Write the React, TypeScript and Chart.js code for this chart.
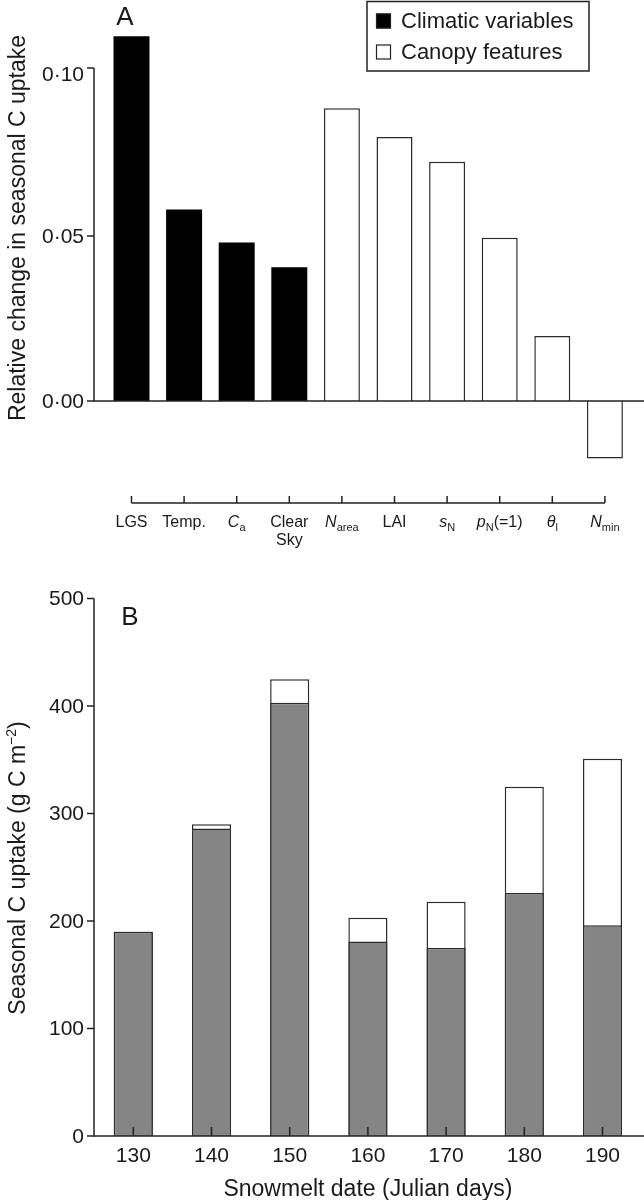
import React, { useEffect, useRef } from 'react';
import { Chart, registerables } from 'chart.js';

Chart.register(...registerables);

// ---------- Panel A data ----------
const factorNames = ['LGS', 'Temp.', 'Ca', 'Clear Sky', 'Narea', 'LAI', 'sN', 'pN(=1)', 'θl', 'Nmin'];
const factorBase = ['LGS', 'Temp.', 'C', 'Clear', 'N', 'LAI', 's', 'p', 'θ', 'N'];
const factorSub = ['', '', 'a', '', 'area', '', 'N', 'N', 'l', 'min'];
const factorTail = ['', '', '', '', '', '', '', '(=1)', '', ''];
const factorLine2 = ['', '', '', 'Sky', '', '', '', '', '', ''];
const climaticValues = [0.1105, 0.058, 0.048, 0.0405];
const canopyValues = [0.0887, 0.08, 0.0725, 0.0495, 0.0197, -0.0174];
const legendLabels = ['Climatic variables', 'Canopy features'];
const yTicksA = [0, 0.05, 0.1];
const yTickLabelsA = ['0·00', '0·05', '0·10'];
const yTitleA = 'Relative change in seasonal C uptake';

// ---------- Panel B data ----------
const snowmeltDates = ['130', '140', '150', '160', '170', '180', '190'];
const baseUptake = [190, 286, 403, 181, 175, 226, 196];
const totalUptake = [190, 290, 425, 203, 218, 325, 351];
const yTicksB = [0, 100, 200, 300, 400, 500];
const xTitleB = 'Snowmelt date (Julian days)';
const yTitleB = ['Seasonal C uptake (g C m', '−2', ')'];

// ---------- style ----------
const W = 644;
const HA = 560;
const HB = 640;
const AXIS_X = 94;
const INK = '#1a1a1a';
const LINE = '#222';
const FONT = '"Liberation Sans", Arial, Helvetica, sans-serif';
const f = (size: number, italic = false) => `${italic ? 'italic ' : ''}${size}px ${FONT}`;

type Part = { text: string; font: string; dy?: number };

function drawParts(ctx: CanvasRenderingContext2D, parts: Part[], cx: number, baseline: number) {
  let total = 0;
  const widths = parts.map((p) => {
    ctx.font = p.font;
    const w = ctx.measureText(p.text).width;
    total += w;
    return w;
  });
  let x = cx - total / 2;
  ctx.textAlign = 'left';
  ctx.textBaseline = 'alphabetic';
  parts.forEach((p, i) => {
    ctx.font = p.font;
    ctx.fillText(p.text, x, baseline + (p.dy || 0));
    x += widths[i];
  });
}

function seg(ctx: CanvasRenderingContext2D, x1: number, y1: number, x2: number, y2: number) {
  ctx.beginPath();
  ctx.moveTo(x1, y1);
  ctx.lineTo(x2, y2);
  ctx.stroke();
}

const panelAPlugin = {
  id: 'panelA',
  afterDatasetsDraw(chart: any) {
    const ctx: CanvasRenderingContext2D = chart.ctx;
    const xs = chart.scales.x;
    const ys = chart.scales.y;
    ctx.save();
    ctx.strokeStyle = LINE;
    ctx.fillStyle = INK;
    ctx.lineWidth = 1.5;
    const y0 = ys.getPixelForValue(0);
    // zero line
    seg(ctx, AXIS_X, y0, W, y0);
    // y axis
    const yTop = ys.getPixelForValue(yTicksA[yTicksA.length - 1]);
    seg(ctx, AXIS_X, y0 + 0.75, AXIS_X, yTop - 3);
    ctx.font = f(21);
    ctx.textAlign = 'right';
    ctx.textBaseline = 'middle';
    yTicksA.forEach((v, i) => {
      const py = ys.getPixelForValue(v);
      const tickY = i === yTicksA.length - 1 ? py - 3 : py;
      seg(ctx, AXIS_X - 7, tickY, AXIS_X, tickY);
      ctx.fillText(yTickLabelsA[i], AXIS_X - 10, py + (i === yTicksA.length - 1 ? 4 : 1));
    });
    // bottom category axis
    const axisY = 503;
    const n = factorNames.length;
    const first = xs.getPixelForValue(0);
    const last = xs.getPixelForValue(n - 1);
    seg(ctx, first, axisY, last, axisY);
    for (let i = 0; i < n; i++) {
      const px = xs.getPixelForValue(i);
      seg(ctx, px, axisY - 7, px, axisY);
      const parts: Part[] = [];
      if (factorSub[i]) {
        parts.push({ text: factorBase[i], font: f(16, true) });
        parts.push({ text: factorSub[i], font: f(11), dy: 4 });
      } else {
        parts.push({ text: factorBase[i], font: f(16) });
      }
      if (factorTail[i]) parts.push({ text: factorTail[i], font: f(16) });
      drawParts(ctx, parts, px, 527);
      if (factorLine2[i]) drawParts(ctx, [{ text: factorLine2[i], font: f(16) }], px, 545);
    }
    // y title
    ctx.save();
    ctx.translate(17, 228);
    ctx.rotate(-Math.PI / 2);
    drawParts(ctx, [{ text: yTitleA, font: f(23) }], 0, 8);
    ctx.restore();
    // panel letter
    ctx.font = f(26);
    ctx.textAlign = 'center';
    ctx.textBaseline = 'alphabetic';
    ctx.fillText('A', 125, 25);
    // legend
    const lx = 367, ly = 1.5, lw = 222, lh = 69.5;
    ctx.strokeRect(lx, ly, lw, lh);
    const ds = chart.data.datasets;
    const rows = [21, 52];
    ds.forEach((d: any, i: number) => {
      const cy = rows[i];
      ctx.fillStyle = d.backgroundColor;
      ctx.fillRect(376, cy - 7.5, 15, 15);
      ctx.strokeStyle = LINE;
      ctx.lineWidth = 1.2;
      ctx.strokeRect(376.5, cy - 7, 14, 14);
      ctx.fillStyle = INK;
      ctx.font = f(22);
      ctx.textAlign = 'left';
      ctx.textBaseline = 'middle';
      ctx.fillText(legendLabels[i], 401, cy + 1);
    });
    ctx.restore();
  },
};

const panelBPlugin = {
  id: 'panelB',
  afterDatasetsDraw(chart: any) {
    const ctx: CanvasRenderingContext2D = chart.ctx;
    const xs = chart.scales.x;
    const ys = chart.scales.y;
    ctx.save();
    ctx.strokeStyle = LINE;
    ctx.fillStyle = INK;
    ctx.lineWidth = 1.5;
    const y0 = ys.getPixelForValue(0);
    // x axis line
    seg(ctx, AXIS_X, y0, W, y0);
    // y axis
    const yTop = ys.getPixelForValue(yTicksB[yTicksB.length - 1]);
    seg(ctx, AXIS_X, y0 + 0.75, AXIS_X, yTop);
    ctx.font = f(21);
    ctx.textAlign = 'right';
    ctx.textBaseline = 'middle';
    yTicksB.forEach((v) => {
      const py = ys.getPixelForValue(v);
      seg(ctx, AXIS_X - 7, py, AXIS_X, py);
      ctx.fillText(String(v), AXIS_X - 10, py + 1);
    });
    // x ticks (inward) + labels
    ctx.textAlign = 'center';
    snowmeltDates.forEach((lab, i) => {
      const px = xs.getPixelForValue(i);
      seg(ctx, px, y0 - 9, px, y0);
      ctx.font = f(21);
      ctx.fillText(lab, px, y0 + 20);
    });
    // x title
    const cx = (chart.chartArea.left + chart.chartArea.right) / 2;
    drawParts(ctx, [{ text: xTitleB, font: f(23) }], cx, y0 + 60);
    // y title
    ctx.save();
    ctx.translate(17, 868 - 560);
    ctx.rotate(-Math.PI / 2);
    drawParts(
      ctx,
      [
        { text: yTitleB[0], font: f(23) },
        { text: yTitleB[1], font: f(14), dy: -9 },
        { text: yTitleB[2], font: f(23) },
      ],
      0,
      8
    );
    ctx.restore();
    // panel letter
    ctx.font = f(26);
    ctx.textAlign = 'center';
    ctx.textBaseline = 'alphabetic';
    ctx.fillText('B', 130, 625 - 560);
    ctx.restore();
  },
};

export default function App() {
  const refA = useRef<HTMLCanvasElement>(null);
  const refB = useRef<HTMLCanvasElement>(null);

  useEffect(() => {
    const chartA = new Chart(refA.current as HTMLCanvasElement, {
      type: 'bar',
      data: {
        labels: factorNames,
        datasets: [
          {
            label: legendLabels[0],
            data: [...climaticValues, ...canopyValues.map(() => null)],
            backgroundColor: '#000',
            borderColor: '#000',
            borderWidth: 0,
          },
          {
            label: legendLabels[1],
            data: [...climaticValues.map(() => null), ...canopyValues],
            backgroundColor: '#fff',
            borderColor: '#2b2b2b',
            borderWidth: 1.5,
          },
        ],
      },
      options: {
        responsive: false,
        animation: false,
        devicePixelRatio: 1,
        layout: { padding: { left: 105.2, right: 12.8, top: 21.5, bottom: 60 } },
        plugins: { legend: { display: false }, tooltip: { enabled: false } },
        datasets: { bar: { grouped: false, categoryPercentage: 1, barPercentage: 0.684 } },
        scales: {
          x: { display: false },
          y: { display: false, min: -0.03, max: 0.115 },
        },
      } as any,
      plugins: [panelAPlugin],
    });

    const chartB = new Chart(refB.current as HTMLCanvasElement, {
      type: 'bar',
      data: {
        labels: snowmeltDates,
        datasets: [
          {
            label: 'Base uptake',
            data: baseUptake,
            backgroundColor: '#858585',
            borderColor: '#2b2b2b',
            borderWidth: 1.5,
          },
          {
            label: 'Total uptake',
            data: totalUptake,
            backgroundColor: '#fff',
            borderColor: '#2b2b2b',
            borderWidth: 1.5,
          },
        ],
      },
      options: {
        responsive: false,
        animation: false,
        devicePixelRatio: 1,
        layout: { padding: { left: 94.2, right: 2.4, top: 38.5, bottom: 64 } },
        plugins: { legend: { display: false }, tooltip: { enabled: false } },
        datasets: { bar: { grouped: false, categoryPercentage: 1, barPercentage: 0.5 } },
        scales: {
          x: { display: false },
          y: { display: false, min: 0, max: 500 },
        },
      } as any,
      plugins: [panelBPlugin],
    });

    return () => {
      chartA.destroy();
      chartB.destroy();
    };
  }, []);

  return (
    <div style={{ position: 'absolute', left: 0, top: 0, width: W, height: HA + HB, background: '#fff' }}>
      <canvas ref={refA} width={W} height={HA} style={{ position: 'absolute', left: 0, top: 0, display: 'block' }} />
      <canvas ref={refB} width={W} height={HB} style={{ position: 'absolute', left: 0, top: HA, display: 'block' }} />
    </div>
  );
}
